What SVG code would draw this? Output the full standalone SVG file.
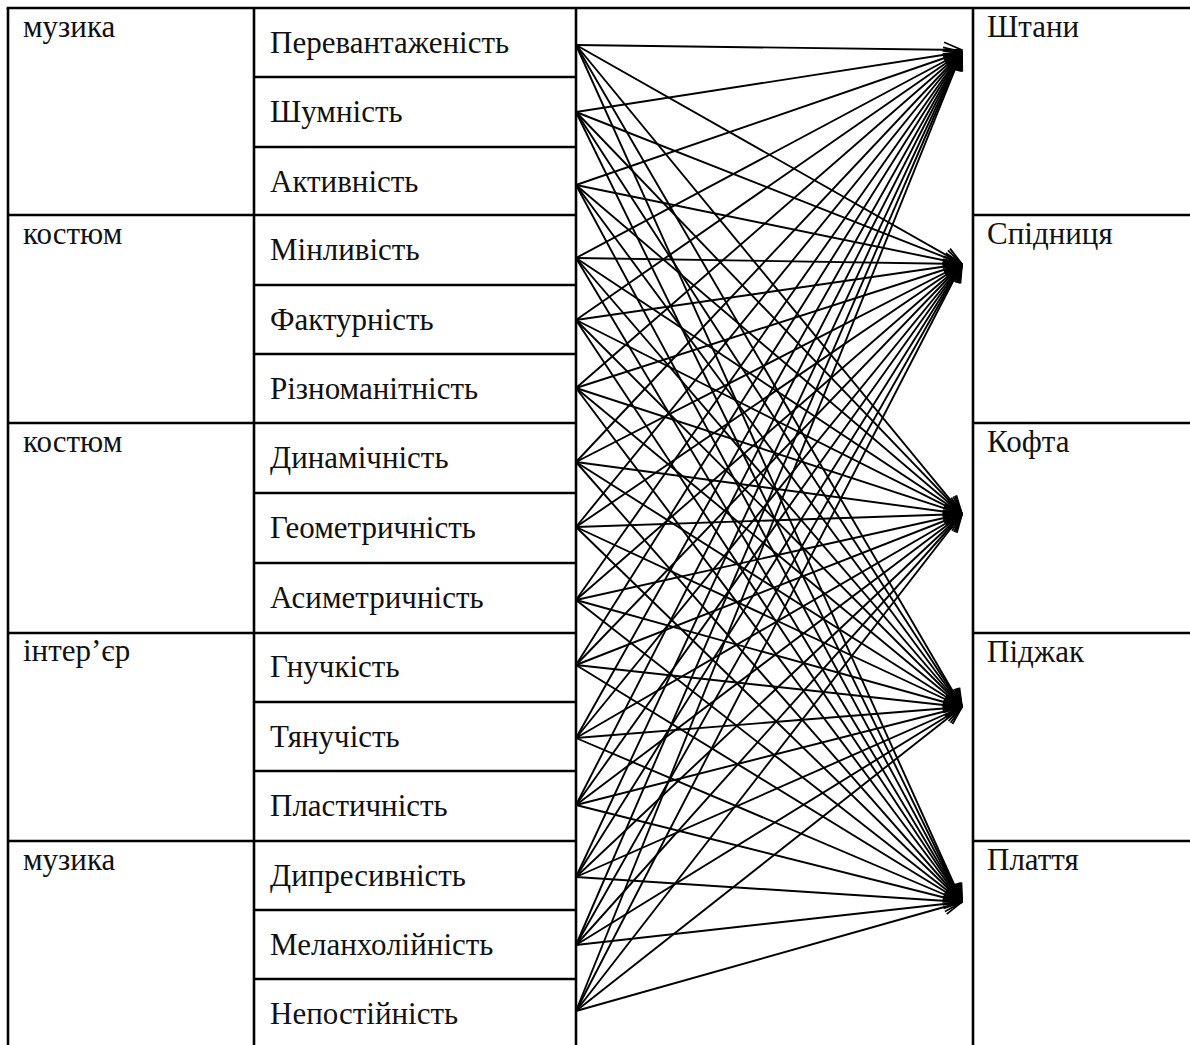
<svg xmlns="http://www.w3.org/2000/svg" width="1190" height="1045" viewBox="0 0 1190 1045">
<style>
.grid{stroke:#000;stroke-width:2.6;fill:none}
.t{font-family:"Liberation Serif","Times New Roman",serif;font-size:31px;font-weight:normal;fill:#111}
.conn line{stroke:#000;stroke-width:1.9;marker-end:url(#arr)}
</style>
<defs>
<marker id="arr" markerUnits="userSpaceOnUse" viewBox="0 0 20 18" markerWidth="20" markerHeight="18" refX="19" refY="9" orient="auto">
<path d="M1,1.5 L19,9 L1,16.5" fill="none" stroke="#000" stroke-width="1.8"/>
</marker>
</defs>
<rect width="1190" height="1045" fill="#fff"/>
<g id="table" class="grid">
<line x1="6.7" y1="8" x2="1190" y2="8"/>
<line x1="8" y1="8" x2="8" y2="1045"/>
<line x1="254" y1="8" x2="254" y2="1045"/>
<line x1="576" y1="8" x2="576" y2="1045"/>
<line x1="973" y1="8" x2="973" y2="1045"/>
<line x1="8" y1="215" x2="576" y2="215"/>
<line x1="8" y1="423" x2="576" y2="423"/>
<line x1="8" y1="633" x2="576" y2="633"/>
<line x1="8" y1="841" x2="576" y2="841"/>
<line x1="254" y1="77" x2="576" y2="77"/>
<line x1="254" y1="147" x2="576" y2="147"/>
<line x1="254" y1="285" x2="576" y2="285"/>
<line x1="254" y1="354" x2="576" y2="354"/>
<line x1="254" y1="493" x2="576" y2="493"/>
<line x1="254" y1="563" x2="576" y2="563"/>
<line x1="254" y1="702" x2="576" y2="702"/>
<line x1="254" y1="771" x2="576" y2="771"/>
<line x1="254" y1="910" x2="576" y2="910"/>
<line x1="254" y1="979" x2="576" y2="979"/>
<line x1="973" y1="215" x2="1190" y2="215"/>
<line x1="973" y1="423" x2="1190" y2="423"/>
<line x1="973" y1="633" x2="1190" y2="633"/>
<line x1="973" y1="841" x2="1190" y2="841"/>
</g>
<g id="groups">
<text class="t" x="23" y="37">музика</text>
<text class="t" x="23" y="244">костюм</text>
<text class="t" x="23" y="452">костюм</text>
<text class="t" x="23" y="661">інтер’єр</text>
<text class="t" x="23" y="870">музика</text>
</g>
<g id="features">
<g id="f1"><text class="t" x="270" y="53">Перевантаженість</text></g>
<g id="f2"><text class="t" x="270" y="122">Шумність</text></g>
<g id="f3"><text class="t" x="270" y="192">Активність</text></g>
<g id="f4"><text class="t" x="270" y="260">Мінливість</text></g>
<g id="f5"><text class="t" x="270" y="330">Фактурність</text></g>
<g id="f6"><text class="t" x="270" y="399">Різноманітність</text></g>
<g id="f7"><text class="t" x="270" y="468">Динамічність</text></g>
<g id="f8"><text class="t" x="270" y="538">Геометричність</text></g>
<g id="f9"><text class="t" x="270" y="608">Асиметричність</text></g>
<g id="f10"><text class="t" x="270" y="677">Гнучкість</text></g>
<g id="f11"><text class="t" x="270" y="747">Тянучість</text></g>
<g id="f12"><text class="t" x="270" y="816">Пластичність</text></g>
<g id="f13"><text class="t" x="270" y="886">Дипресивність</text></g>
<g id="f14"><text class="t" x="270" y="955">Меланхолійність</text></g>
<g id="f15"><text class="t" x="270" y="1024">Непостійність</text></g>
</g>
<g id="items">
<g id="i1"><text class="t" x="987" y="37">Штани</text></g>
<g id="i2"><text class="t" x="987" y="244">Спідниця</text></g>
<g id="i3"><text class="t" x="987" y="452">Кофта</text></g>
<g id="i4"><text class="t" x="987" y="662">Піджак</text></g>
<g id="i5"><text class="t" x="987" y="870">Плаття</text></g>
</g>
<g id="connectors" class="conn">
<line x1="576" y1="45" x2="962" y2="50"/><line x1="576" y1="45" x2="962" y2="264"/><line x1="576" y1="45" x2="962" y2="514"/><line x1="576" y1="45" x2="962" y2="707"/><line x1="576" y1="45" x2="962" y2="902"/>
<line x1="576" y1="112" x2="962" y2="52"/><line x1="576" y1="112" x2="962" y2="264"/><line x1="576" y1="112" x2="962" y2="514"/><line x1="576" y1="112" x2="962" y2="707"/><line x1="576" y1="112" x2="962" y2="902"/>
<line x1="576" y1="185" x2="962" y2="52"/><line x1="576" y1="185" x2="962" y2="264"/><line x1="576" y1="185" x2="962" y2="514"/><line x1="576" y1="185" x2="962" y2="707"/><line x1="576" y1="185" x2="962" y2="902"/>
<line x1="576" y1="258" x2="962" y2="52"/><line x1="576" y1="258" x2="962" y2="264"/><line x1="576" y1="258" x2="962" y2="514"/><line x1="576" y1="258" x2="962" y2="707"/><line x1="576" y1="258" x2="962" y2="902"/>
<line x1="576" y1="320" x2="962" y2="52"/><line x1="576" y1="320" x2="962" y2="264"/><line x1="576" y1="320" x2="962" y2="514"/><line x1="576" y1="320" x2="962" y2="707"/><line x1="576" y1="320" x2="962" y2="902"/>
<line x1="576" y1="388" x2="962" y2="52"/><line x1="576" y1="388" x2="962" y2="264"/><line x1="576" y1="388" x2="962" y2="514"/><line x1="576" y1="388" x2="962" y2="707"/><line x1="576" y1="388" x2="962" y2="902"/>
<line x1="576" y1="462" x2="962" y2="52"/><line x1="576" y1="462" x2="962" y2="264"/><line x1="576" y1="462" x2="962" y2="514"/><line x1="576" y1="462" x2="962" y2="707"/><line x1="576" y1="462" x2="962" y2="902"/>
<line x1="576" y1="527" x2="962" y2="52"/><line x1="576" y1="527" x2="962" y2="264"/><line x1="576" y1="527" x2="962" y2="514"/><line x1="576" y1="527" x2="962" y2="707"/><line x1="576" y1="527" x2="962" y2="902"/>
<line x1="576" y1="600" x2="962" y2="52"/><line x1="576" y1="600" x2="962" y2="264"/><line x1="576" y1="600" x2="962" y2="514"/><line x1="576" y1="600" x2="962" y2="707"/><line x1="576" y1="600" x2="962" y2="902"/>
<line x1="576" y1="665" x2="962" y2="52"/><line x1="576" y1="665" x2="962" y2="264"/><line x1="576" y1="665" x2="962" y2="514"/><line x1="576" y1="665" x2="962" y2="707"/><line x1="576" y1="665" x2="962" y2="902"/>
<line x1="576" y1="738" x2="962" y2="52"/><line x1="576" y1="738" x2="962" y2="264"/><line x1="576" y1="738" x2="962" y2="514"/><line x1="576" y1="738" x2="962" y2="707"/><line x1="576" y1="738" x2="962" y2="902"/>
<line x1="576" y1="805" x2="962" y2="52"/><line x1="576" y1="805" x2="962" y2="264"/><line x1="576" y1="805" x2="962" y2="514"/><line x1="576" y1="805" x2="962" y2="707"/><line x1="576" y1="805" x2="962" y2="902"/>
<line x1="576" y1="877" x2="962" y2="52"/><line x1="576" y1="877" x2="962" y2="264"/><line x1="576" y1="877" x2="962" y2="514"/><line x1="576" y1="877" x2="962" y2="707"/><line x1="576" y1="877" x2="962" y2="902"/>
<line x1="576" y1="945" x2="962" y2="52"/><line x1="576" y1="945" x2="962" y2="264"/><line x1="576" y1="945" x2="962" y2="514"/><line x1="576" y1="945" x2="962" y2="707"/><line x1="576" y1="945" x2="962" y2="902"/>
<line x1="576" y1="1011" x2="962" y2="52"/><line x1="576" y1="1011" x2="962" y2="264"/><line x1="576" y1="1011" x2="962" y2="514"/><line x1="576" y1="1011" x2="962" y2="707"/><line x1="576" y1="1011" x2="962" y2="902"/>
</g>
</svg>
